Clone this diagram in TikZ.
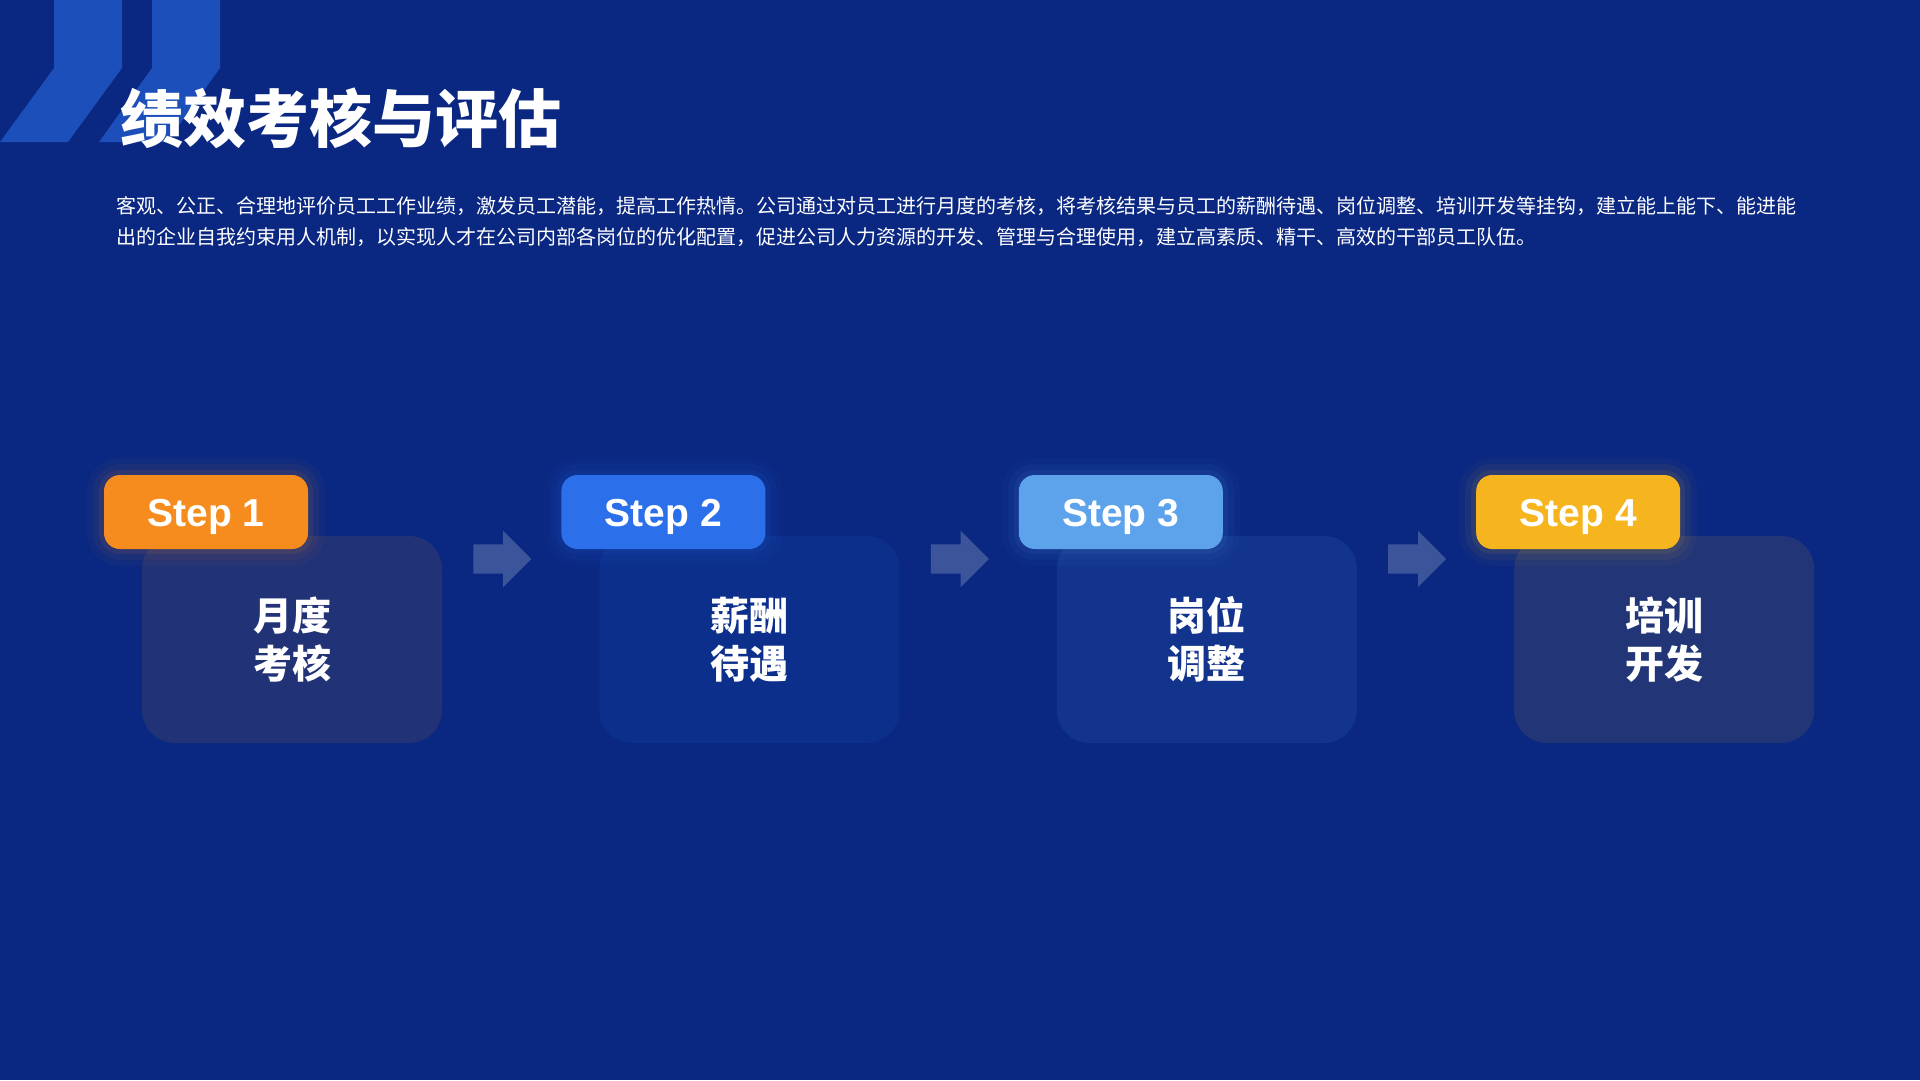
\documentclass[tikz,border=0pt]{standalone}
\usepackage{fontspec}
\setmainfont{Liberation Sans}
\newfontfamily\cjk{Noto Sans CJK SC}
\usetikzlibrary{positioning,shapes.arrows,calc}
\definecolor{PageNavy}{RGB}{10,40,130}
\definecolor{PageChevron}{RGB}{28,79,186}
\definecolor{StepOrange}{RGB}{246,140,30}
\definecolor{StepBlue}{RGB}{43,111,235}
\definecolor{StepSky}{RGB}{92,163,236}
\definecolor{StepGold}{RGB}{246,181,30}
\definecolor{FlowArrow}{RGB}{59,84,154}
\tikzset{
  step card/.style={
    fill=#1,
    fill opacity=0.1,
    text opacity=1,
    rounded corners=33pt,
    minimum width=300pt,
    minimum height=207pt,
    inner sep=0pt,
    align=center,
    text=white,
    font=\cjk\bfseries\fontsize{39}{48}\selectfont
  },
  step tag/.style={
    preaction={draw=#1, line width=34pt, draw opacity=0.03},
    preaction={draw=#1, line width=22pt, draw opacity=0.05},
    preaction={draw=#1, line width=10pt, draw opacity=0.08},
    fill=#1,
    rounded corners=16pt,
    minimum width=204pt,
    minimum height=74pt,
    inner sep=0pt,
    text height=28pt,
    text depth=0pt,
    anchor=north west,
    text=white,
    font=\bfseries\fontsize{39}{39}\selectfont
  },
  flow arrow/.style={
    single arrow,
    fill=FlowArrow,
    minimum height=58pt,
    minimum width=56pt,
    text height=29pt,
    text depth=0pt,
    single arrow head extend=13.5pt,
    single arrow head indent=0pt,
    single arrow tip angle=90,
    inner sep=0pt,
    anchor=west
  },
  page title/.style={anchor=west, inner sep=0pt, text=white, font=\cjk\bfseries\fontsize{63}{70}\selectfont},
  page text/.style={anchor=north west, inner sep=0pt, align=left, text=white, font=\cjk\fontsize{20}{31}\selectfont}
}

\begin{document}
\begin{tikzpicture}[x=1pt,y=-1pt,node distance=157pt]
\fill[PageNavy] (0,0) rectangle (1920,1080);
\useasboundingbox (0,0) rectangle (1920,1080);
% chevrons top left
\fill[PageChevron] (54,0) -- (122,0) -- (122,68) -- (68,142) -- (0,142) -- (54,68) -- cycle;
\fill[PageChevron] (152,0) -- (220,0) -- (220,68) -- (167,142) -- (99,142) -- (152,68) -- cycle;
\node[page title] (title) at (120,118) {绩效考核与评估};
\node[page text] (intro) at (116,196) {客观、公正、合理地评价员工工作业绩，激发员工潜能，提高工作热情。公司通过对员工进行月度的考核，将考核结果与员工的薪酬待遇、岗位调整、培训开发等挂钩，建立能上能下、能进能\\出的企业自我约束用人机制，以实现人才在公司内部各岗位的优化配置，促进公司人力资源的开发、管理与合理使用，建立高素质、精干、高效的干部员工队伍。};
% step cards
\node[step card=StepOrange] (monthly) at (292,639.5) {月度\\考核};
\node[step card=StepBlue, right=of monthly] (salary) {薪酬\\待遇};
\node[step card=StepSky, right=of salary] (post) {岗位\\调整};
\node[step card=StepGold, right=of post] (training) {培训\\开发};
% step tags
\node[step tag=StepOrange] (tag1) at ([xshift=-38pt,yshift=61pt]monthly.north west) {Step 1};
\node[step tag=StepBlue] (tag2) at ([xshift=-38pt,yshift=61pt]salary.north west) {Step 2};
\node[step tag=StepSky] (tag3) at ([xshift=-38pt,yshift=61pt]post.north west) {Step 3};
\node[step tag=StepGold] (tag4) at ([xshift=-38pt,yshift=61pt]training.north west) {Step 4};
% arrows between cards
\node[flow arrow] (arr1) at ([xshift=31pt,yshift=80.5pt]monthly.east) {};
\node[flow arrow] (arr2) at ([xshift=31pt,yshift=80.5pt]salary.east) {};
\node[flow arrow] (arr3) at ([xshift=31pt,yshift=80.5pt]post.east) {};
\end{tikzpicture}
\end{document}
